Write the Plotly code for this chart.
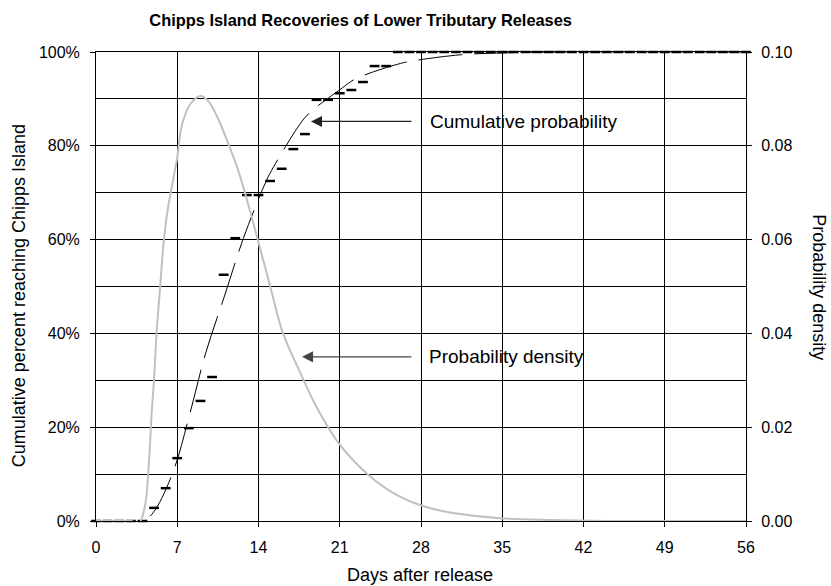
import plotly.graph_objects as go

# observed cumulative percent recovered, one value per day (0..56)
days = list(range(57))
cum_obs = [0, 0, 0, 0, 0, 2.8, 7.0, 13.4, 19.8, 25.6, 30.7, 52.5, 60.3, 69.5, 69.5,
           72.5, 75.1, 79.3, 82.5, 89.8, 89.8, 91.2, 91.9, 93.6, 97.0, 97.0] + [100] * 31

# fitted cumulative probability (percent)
fit_day = [0, 4.0, 4.9, 6.6, 8.1, 9.4, 11.1, 12.7, 14.7, 15.3, 17.4, 18.3, 21.2,
           22.3, 26.0, 27.3, 31.4, 35, 40, 56]
fit_pct = [0, 0, 1.7, 10.2, 23.0, 35.4, 48.2, 60.3, 72.7, 75.5, 84.0, 86.8, 92.3,
           94.2, 97.4, 98.1, 99.4, 99.8, 100, 100]

# fitted probability density
dens_day = [0, 1, 2, 3, 3.7, 4.22, 4.56, 4.8, 5.0, 5.24, 5.51, 5.8, 6.14, 6.66, 7.0,
            7.38, 8.1, 9.0, 9.65, 10.4, 11.25, 12.4, 13.5, 15.0, 16.1, 17.6, 19.0,
            20.9, 23.3, 25.6, 27.9, 30.5, 34.8, 39.1, 44, 56]
dens_val = [0, 0, 0, 0, -0.0004, 0.0032, 0.0125, 0.0232, 0.0302, 0.0409, 0.0494,
            0.0586, 0.0658, 0.0729, 0.0775, 0.0842, 0.0888, 0.0906, 0.0896, 0.0864,
            0.0814, 0.0736, 0.064, 0.0501, 0.0401, 0.0316, 0.0243, 0.0166, 0.0102,
            0.0060, 0.0034, 0.0018, 0.0006, 0.0002, 0, 0]

FONT = "Liberation Sans, Arial, sans-serif"

fig = go.Figure()
fig.add_trace(go.Scatter(
    x=dens_day, y=dens_val, yaxis="y2", mode="lines", line_shape="spline",
    line=dict(color="#c0c0c0", width=2), name="Probability density"
))
fig.add_trace(go.Scatter(
    x=fit_day, y=fit_pct, mode="lines", line_shape="spline",
    line=dict(color="black", width=1, dash="44px,12px"), name="Cumulative probability"
))
fig.add_trace(go.Scatter(
    x=days, y=cum_obs, mode="markers", cliponaxis=False,
    marker=dict(symbol="line-ew", size=7, line=dict(color="black", width=2.5)),
    name="Observed"
))

# callouts
fig.add_annotation(x=18.52, y=85.2, ax=27.3, ay=85.2, axref="x", ayref="y", text="",
                   showarrow=True, arrowhead=2, arrowsize=1.7, arrowwidth=1.3, arrowcolor="#222")
fig.add_annotation(x=28.6, y=85.2, text="Cumulative probability", showarrow=False,
                   xanchor="left", font=dict(size=19, color="black"))
fig.add_annotation(x=17.75, y=35.0, ax=27.3, ay=35.0, axref="x", ayref="y", text="",
                   showarrow=True, arrowhead=2, arrowsize=1.7, arrowwidth=1.3, arrowcolor="#444")
fig.add_annotation(x=28.5, y=35.0, text="Probability density", showarrow=False,
                   xanchor="left", font=dict(size=19, color="black"))

# axis titles
fig.add_annotation(text="Cumulative percent reaching Chipps Island", textangle=-90,
                   xref="paper", yref="paper", x=-0.118, y=0.48, showarrow=False,
                   xanchor="center", yanchor="middle", font=dict(size=18, color="black"))
fig.add_annotation(text="Probability density", textangle=90,
                   xref="paper", yref="paper", x=1.112, y=0.499, showarrow=False,
                   xanchor="center", yanchor="middle", font=dict(size=18, color="black"))
fig.add_annotation(text="Days after release", xref="paper", yref="paper",
                   x=0.498, y=-0.115, xanchor="center", yanchor="middle", showarrow=False,
                   font=dict(size=18, color="black"))

fig.update_layout(
    width=831, height=586,
    margin=dict(l=96, r=85, t=52, b=65),
    paper_bgcolor="white", plot_bgcolor="white",
    showlegend=False,
    font=dict(family=FONT, size=16, color="black"),
    title=dict(text="<b>Chipps Island Recoveries of Lower Tributary Releases</b>",
               x=0.434, xanchor="center", y=0.966, yanchor="middle",
               font=dict(size=16.4, color="black")),
    xaxis=dict(range=[0, 56], tick0=0, dtick=7, ticks="outside", ticklen=5,
               tickcolor="black", showline=True, linecolor="black", mirror=True,
               showgrid=True, gridcolor="black", gridwidth=1, zeroline=False,
               ticklabelstandoff=7),
    yaxis=dict(range=[0, 100], dtick=20, ticksuffix="%", ticks="outside", ticklen=5,
               tickcolor="black", showline=True, linecolor="black",
               showgrid=True, gridcolor="black", gridwidth=1, zeroline=False,
               ticklabelstandoff=7,
               minor=dict(dtick=10, showgrid=True, gridcolor="black", gridwidth=1, ticks="")),
    yaxis2=dict(range=[0, 0.1], dtick=0.02, tickformat=".2f", overlaying="y", side="right",
                ticks="outside", ticklen=5, tickcolor="black", showline=True,
                linecolor="black", showgrid=False, zeroline=False, ticklabelstandoff=6),
)

# drop the default page margin so the figure fills the window exactly
fig.write_html("out.html", config={"displayModeBar": False},
               post_script="document.body.style.margin='0';")
